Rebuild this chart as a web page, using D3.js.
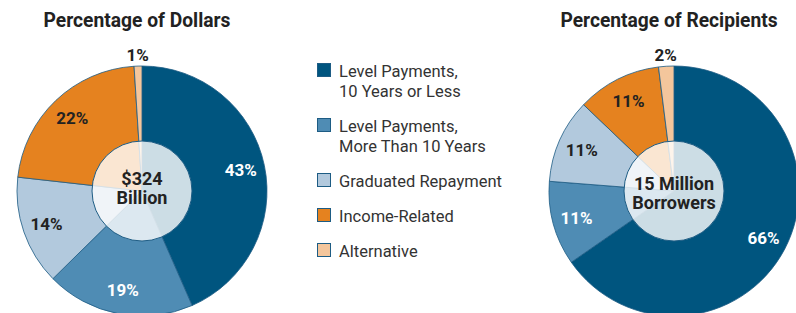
<!DOCTYPE html>
<html>
<head>
<meta charset="utf-8">
<script src="https://cdn.jsdelivr.net/npm/d3@7"></script>
<style>
  body { margin: 0; background: #fff; }
  svg { display: block; }
  text { font-family: Roboto, "Liberation Sans", sans-serif; }
</style>
</head>
<body>
<svg id="chart" width="796" height="313"></svg>
<script>
// repayment plan categories, clockwise from 12 o'clock
const categories = [
  "Level Payments, 10 Years or Less",
  "Level Payments, More Than 10 Years",
  "Graduated Repayment",
  "Income-Related",
  "Alternative"
];
const legendLines = [
  ["Level Payments,", "10 Years or Less"],
  ["Level Payments,", "More Than 10 Years"],
  ["Graduated Repayment"],
  ["Income-Related"],
  ["Alternative"]
];
const dollarsPct = [43, 19, 14, 22, 1];
const recipientsPct = [66, 11, 11, 11, 2];
const panelTitles = ["Percentage of Dollars", "Percentage of Recipients"];
const centerLabels = [["$324", "Billion"], ["15 Million", "Borrowers"]];

const colors = ["#00557f", "#4f8cb4", "#b2c9dd", "#e5821f", "#f4c69c"];
const labelColors = ["#fff", "#fff", "#222", "#222", "#222"];

const svg = d3.select("#chart");
const color = d3.scaleOrdinal().domain(categories).range(colors);

const R = 125, r0 = 50;
const pie = d3.pie().sort(null).value(d => d.v);
const arc = d3.arc().innerRadius(0).outerRadius(R);
const labelArc = d3.arc().innerRadius(101).outerRadius(101);
const outsideArc = d3.arc().innerRadius(136).outerRadius(136);

function drawPie(cx, cy, values, title, titleW, center, centerY) {
  const data = categories.map((c, i) => ({ c: c, v: values[i], i: i }));
  const arcs = pie(data);

  svg.append("text")
    .attr("x", cx - 5 - titleW / 2).attr("y", 27)
    .attr("font-size", 20).attr("font-weight", "bold")
    .attr("textLength", titleW)
    .attr("lengthAdjust", "spacingAndGlyphs")
    .attr("fill", "#222")
    .text(title);

  const g = svg.append("g").attr("transform", `translate(${cx},${cy})`);

  g.selectAll("path.slice")
    .data(arcs)
    .join("path")
    .attr("class", "slice")
    .attr("d", arc)
    .attr("fill", d => color(d.data.c))
    .attr("stroke", "#1d5c84")
    .attr("stroke-width", 0.8);

  // washed-out hub over the middle of the pie
  g.append("circle")
    .attr("r", r0)
    .attr("fill", "#fff")
    .attr("fill-opacity", 0.8)
    .attr("stroke", "#1d5c84")
    .attr("stroke-width", 1);

  g.selectAll("text.pct")
    .data(arcs)
    .join("text")
    .attr("class", "pct")
    .attr("transform", d => {
      const p = (d.data.v < 5 ? outsideArc : labelArc).centroid(d);
      return `translate(${p[0]},${p[1]})`;
    })
    .attr("dy", "0.36em")
    .attr("text-anchor", "middle")
    .attr("font-size", 17).attr("font-weight", "bold")
    .attr("fill", d => d.data.v < 5 ? "#222" : labelColors[d.data.i])
    .text(d => d.data.v + "%");

  g.append("text")
    .attr("text-anchor", "middle")
    .attr("font-size", 18).attr("font-weight", "bold")
    .attr("fill", "#222")
    .selectAll("tspan")
    .data(center)
    .join("tspan")
    .attr("x", 0)
    .attr("y", (d, i) => centerY + i * 19)
    .text(d => d);
}

drawPie(142, 191, dollarsPct, panelTitles[0], 187, centerLabels[0], -6);
drawPie(674, 191, recipientsPct, panelTitles[1], 217, centerLabels[1], -1);

// legend
const legendY = [63, 118, 173, 208, 243];
const lg = svg.append("g").attr("transform", "translate(317,0)");
const items = lg.selectAll("g.item")
  .data(categories)
  .join("g")
  .attr("class", "item")
  .attr("transform", (d, i) => `translate(0,${legendY[i]})`);

items.append("rect")
  .attr("x", 0.5).attr("y", 0.5)
  .attr("width", 13).attr("height", 13)
  .attr("fill", d => color(d))
  .attr("stroke", "#1d5c84")
  .attr("stroke-width", 1);

items.append("text")
  .attr("font-size", 16.5)
  .attr("fill", "#333")
  .selectAll("tspan")
  .data((d, i) => legendLines[i])
  .join("tspan")
  .attr("x", 22)
  .attr("y", (d, i) => 14 + i * 20)
  .text(d => d);
</script>
</body>
</html>
